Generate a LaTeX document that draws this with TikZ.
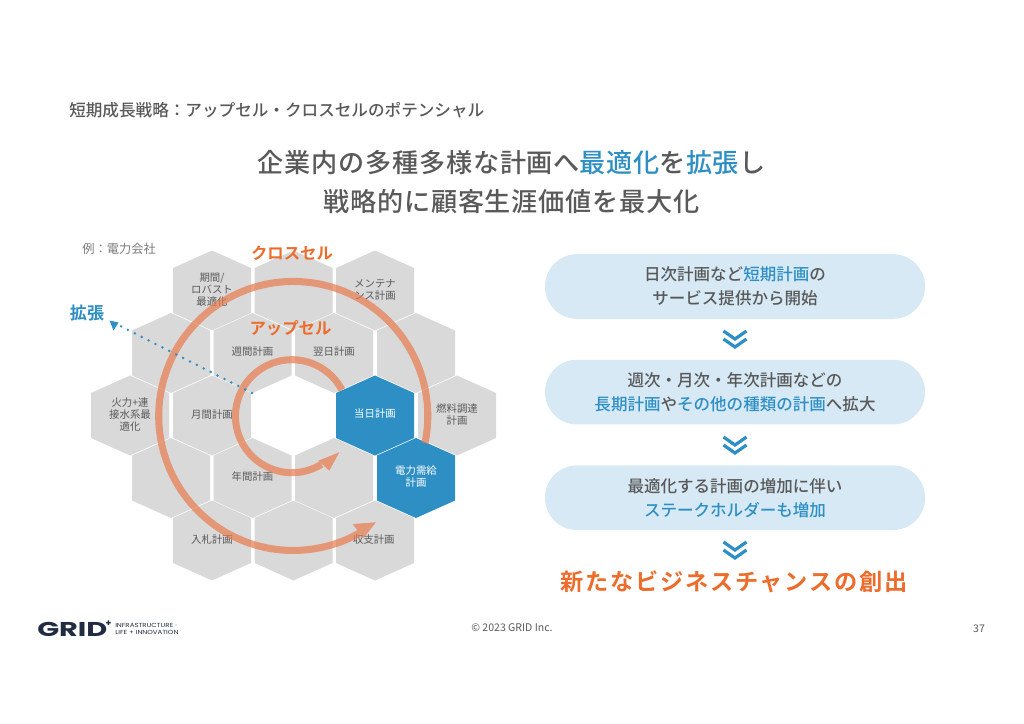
\documentclass[tikz,border=0pt]{standalone}
\usepackage{fontspec}
\usepackage{xcolor}
\setmainfont{Noto Sans CJK JP}[BoldFont={Noto Sans CJK JP Medium}]
\newfontfamily\heavyfont{Noto Sans CJK JP Bold}
\newfontfamily\logofont{Poppins}
\usetikzlibrary{arrows.meta,positioning,calc}
\definecolor{GridBlue}{RGB}{46,143,197}
\definecolor{GridOrange}{RGB}{236,108,44}
\definecolor{SweepOrange}{RGB}{232,120,72}
\definecolor{CellGray}{RGB}{217,217,217}
\definecolor{TextGray}{RGB}{89,89,89}
\definecolor{PillBlue}{RGB}{214,233,245}
\definecolor{LogoNavy}{RGB}{32,44,66}
\tikzset{
  celllabel/.style={inner sep=0pt, align=center, text=TextGray,
    font=\fontsize{7.8}{9}\selectfont},
  pillbox/.style={fill=PillBlue, rounded corners=24pt, minimum width=285pt,
    minimum height=48.5pt, inner sep=0pt, align=center, text=TextGray,
    font=\fontsize{12.4}{18}\selectfont\bfseries},
  sweepgroup/.style={transparency group, opacity=0.68},
  sweepline/.style={draw=SweepOrange, line width=5.3pt},
  chevronline/.style={draw=GridBlue, line width=2.4pt},
  titletext/.style={inner sep=0pt, text=TextGray,
    font=\fontsize{19.6}{29}\selectfont\bfseries\addfontfeature{LetterSpace=3}, align=center},
  tagtext/.style={inner sep=0pt, text=GridOrange,
    font=\heavyfont\fontsize{12.3}{14}\selectfont}
}
% one hexagon of the grid, centred on #1,#2
\newcommand{\hexcell}[3]{
  \fill[#3] (#1,#2-40) -- (#1+39,#2-22.5) -- (#1+39,#2+22.5) -- (#1,#2+40)
    -- (#1-39,#2+22.5) -- (#1-39,#2-22.5) -- cycle;
}
\begin{document}
\begin{tikzpicture}[x=0.75pt,y=-0.75pt]
\useasboundingbox (0,0) rectangle (1024,724);

% heading
\node[anchor=west, inner sep=0pt, text=TextGray,
      font=\fontsize{12.45}{14}\selectfont\bfseries] (pagehead) at (69,110)
  {短期成長戦略^^^^ff1aアップセル・クロスセルのポテンシャル};
\node[titletext] (maintitle) at (511.5,182)
  {企業内の多種多様な計画へ\textcolor{GridBlue}{最適化}を\textcolor{GridBlue}{拡張}し\\
   戦略的に顧客生涯価値を最大化};
\node[anchor=west, inner sep=0pt, text=TextGray!80,
      font=\fontsize{9.2}{11}\selectfont] (example) at (82,249) {例^^^^ff1a電力会社};

% hexagon grid
\foreach \cellx/\celly/\cellname/\celltext in {
  212/290.5/cellrobust/{期間/\\ロバスト\\最適化},
  293.5/290.5/celltop/{},
  375/290.5/cellmaint/{メンテナ\\ンス計画},
  171/353/cellupleft/{},
  252.5/353/cellweek/{週間計画},
  334/353/cellnext/{翌日計画},
  416/353/cellupright/{},
  130/415.5/cellfire/{火力+連\\接水系最\\適化},
  212/415.5/cellmonth/{月間計画},
  457/415.5/cellfuel/{燃料調達\\計画},
  171/478/celllowleft/{},
  252.5/478/cellyear/{年間計画},
  334/478/celllowmid/{},
  212/540.5/cellbid/{入札計画},
  293.5/540.5/cellbottom/{},
  375/540.5/cellbalance/{収支計画}
}{
  \hexcell{\cellx}{\celly}{CellGray}
  \node[celllabel] (\cellname) at (\cellx,\celly-1) {\celltext};
}
\hexcell{375}{415.5}{GridBlue}
\node[celllabel, text=white] (cellsameday) at (375,414) {当日計画};
\hexcell{416}{478}{GridBlue}
\node[celllabel, text=white] (cellpower) at (416,477) {電力需給\\計画};

% sweeping arrows
\coordinate (upstart) at (342,390);
\coordinate (crossstart) at (425,443);
\begin{scope}[sweepgroup]
\draw[sweepline] (upstart) arc[start angle=-27.6, delta angle=-273.9, radius=56.5];
\fill[SweepOrange] (318.3,460.7) -- (339.3,452.3) -- (329.3,470.7) -- cycle;
\end{scope}
\begin{scope}[sweepgroup]
\draw[sweepline] (crossstart) arc[start angle=11.6, delta angle=-311, radius=134.5];
\fill[SweepOrange] (352.7,524) -- (376,522.3) -- (363.3,538.3) -- cycle;
\end{scope}
\node[tagtext] (crosssell) at (292,253.5) {クロスセル};
\node[tagtext] (upsell) at (290.5,328.5) {アップセル};

% direction of expansion
\coordinate (expandfrom) at (252,393);
\coordinate (expandto) at (109.5,320.5);
\draw[GridBlue, line width=2.1pt, line cap=round, dash pattern=on 0pt off 5.8pt]
  (expandfrom) -- ($(expandfrom)!0.93!(expandto)$);
\fill[GridBlue] (expandto) -- (118.5,322.5) -- (113.5,330.5) -- cycle;
\node[inner sep=0pt, text=GridBlue, font=\heavyfont\fontsize{12.8}{14}\selectfont]
  (expandtag) at (87,313) {拡張};

% right column
\node[pillbox] (pilldaily) at (735,286.5)
  {日次計画など\textcolor{GridBlue}{短期計画}の\\サービス提供から開始};
\node[pillbox, below=30.3pt of pilldaily] (pilllong)
  {週次・月次・年次計画などの\\\textcolor{GridBlue}{長期計画}や\textcolor{GridBlue}{その他の種類の計画}へ拡大};
\node[pillbox, below=30.3pt of pilllong] (pillstake)
  {最適化する計画の増加に伴い\\\textcolor{GridBlue}{ステークホルダーも増加}};
\foreach \chevy in {331,437,542}{
  \draw[chevronline] (723.5,\chevy) -- (735,\chevy+8) -- (746.5,\chevy);
  \draw[chevronline] (723.5,\chevy+8) -- (735,\chevy+16) -- (746.5,\chevy+8);
}
\node[inner sep=0pt, text=GridOrange,
      font=\heavyfont\fontsize{17.4}{22}\selectfont\addfontfeature{LetterSpace=7.5}]
  (chance) at (734,582) {新たなビジネスチャンスの創出};

% footer
\node[inner sep=0pt, anchor=west, text=LogoNavy,
      font=\logofont\fontsize{15}{16}\selectfont\bfseries] (logoword) at (37,629)
  {\scalebox{1.44}[1]{GRID}};
\node[inner sep=0pt, text=LogoNavy,
      font=\logofont\fontsize{7}{8}\selectfont\bfseries] (logoplus) at (108.5,624) {+};
\node[inner sep=0pt, anchor=west, align=left, text=LogoNavy,
      font=\logofont\fontsize{4.4}{5.3}\selectfont] (logotag) at (115,629)
  {\scalebox{1.2}[1]{INFRASTRUCTURE ·}\\\scalebox{1.2}[1]{LIFE + INNOVATION}};
\node[inner sep=0pt, text=TextGray, font=\fontsize{7.9}{9}\selectfont] (copyline) at (512,628)
  {© 2023 GRID Inc.};
\node[inner sep=0pt, text=TextGray, font=\fontsize{7.9}{9}\selectfont] (pagenum) at (979,629) {37};
\end{tikzpicture}
\end{document}
